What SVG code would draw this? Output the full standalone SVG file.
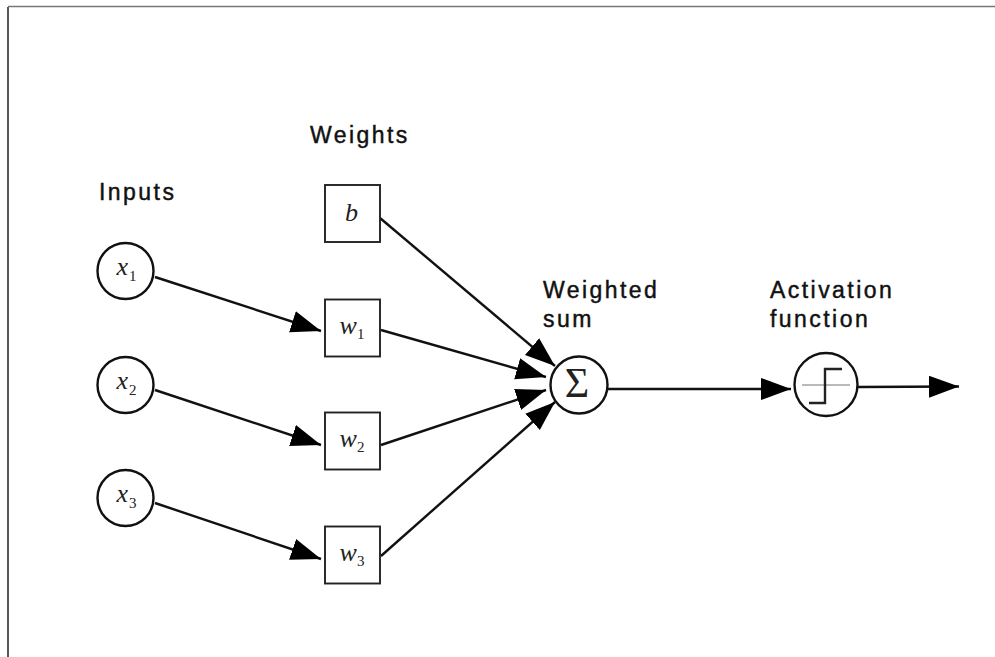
<svg xmlns="http://www.w3.org/2000/svg" width="995" height="657" viewBox="0 0 995 657">
<style>
.lbl{font-family:"Liberation Sans",Arial,sans-serif;font-size:23px;fill:#111;stroke:#111;stroke-width:.45px;letter-spacing:2.45px}
.m{font-family:"Liberation Serif","Times New Roman",serif;font-style:italic;font-size:26px;fill:#222}
.s{font-family:"Liberation Serif","Times New Roman",serif;font-size:15px;fill:#222}
.c{fill:#fff;stroke:#111;stroke-width:2.4}
.b{fill:#fff;stroke:#222;stroke-width:1.9}
.e{fill:none;stroke:#111;stroke-width:2.4}
</style>
<defs><marker id="a" markerUnits="userSpaceOnUse" markerWidth="32" markerHeight="24" refX="30" refY="11" orient="auto"><path d="M0 0L30 11L0 22Z" fill="#000"/></marker></defs>
<g id="frame"><path d="M8 657V7" stroke="#111" stroke-width="1.4" fill="none"/><path d="M8 6.500H995" stroke="#777" stroke-width="1.500" fill="none"/></g>
<g id="connectors">
<path class="e" marker-end="url(#a)" d="M155 277L321 331"/>
<path class="e" marker-end="url(#a)" d="M155 390L321 445"/>
<path class="e" marker-end="url(#a)" d="M155 503L321 559"/>
<path class="e" marker-end="url(#a)" d="M380 218L555 366"/>
<path class="e" marker-end="url(#a)" d="M381 330L546 377"/>
<path class="e" marker-end="url(#a)" d="M381 445L546 390"/>
<path class="e" marker-end="url(#a)" d="M381 556L555 402"/>
<path class="e" marker-end="url(#a)" d="M608 389L791 389"/>
<path class="e" marker-end="url(#a)" d="M858 387L959 386.500"/>
</g>
<g id="label-weights"><text class="lbl" x="310" y="143">Weights</text></g>
<g id="label-inputs"><text class="lbl" x="99" y="200">Inputs</text></g>
<g id="label-weighted-sum"><text class="lbl" x="543" y="298">Weighted</text><text class="lbl" x="543" y="327">sum</text></g>
<g id="label-activation"><text class="lbl" x="770" y="298">Activation</text><text class="lbl" x="770" y="327">function</text></g>
<g id="x1"><circle class="c" cx="125.500" cy="271" r="28"/><text class="m" x="116.500" y="275">x</text><text class="s" x="129" y="281">1</text></g>
<g id="x2"><circle class="c" cx="125.500" cy="385" r="28"/><text class="m" x="116.500" y="389">x</text><text class="s" x="129" y="395">2</text></g>
<g id="x3"><circle class="c" cx="125.500" cy="498" r="28"/><text class="m" x="116.500" y="502">x</text><text class="s" x="129" y="508">3</text></g>
<g id="b"><rect class="b" x="325" y="185" width="55" height="57"/><text class="m" x="345" y="221">b</text></g>
<g id="w1"><rect class="b" x="325" y="299.500" width="55" height="57"/><text class="m" x="339.500" y="334">w</text><text class="s" x="357" y="339">1</text></g>
<g id="w2"><rect class="b" x="325" y="412.500" width="55" height="57"/><text class="m" x="339.500" y="447">w</text><text class="s" x="357" y="452">2</text></g>
<g id="w3"><rect class="b" x="325" y="526.500" width="55" height="57"/><text class="m" x="339.500" y="561">w</text><text class="s" x="357" y="566">3</text></g>
<g id="sum"><circle class="c" cx="579" cy="385" r="28.500"/><text x="577" y="397" text-anchor="middle" style="font-family:'Liberation Serif',serif;font-size:42px;fill:#222">Σ</text></g>
<g id="activation"><circle class="c" cx="826" cy="384.500" r="31.500"/><path d="M802 385H850" stroke="#777" stroke-width="1.200"/><path d="M809 403H825V369H842" fill="none" stroke="#222" stroke-width="2.400"/></g>
</svg>
